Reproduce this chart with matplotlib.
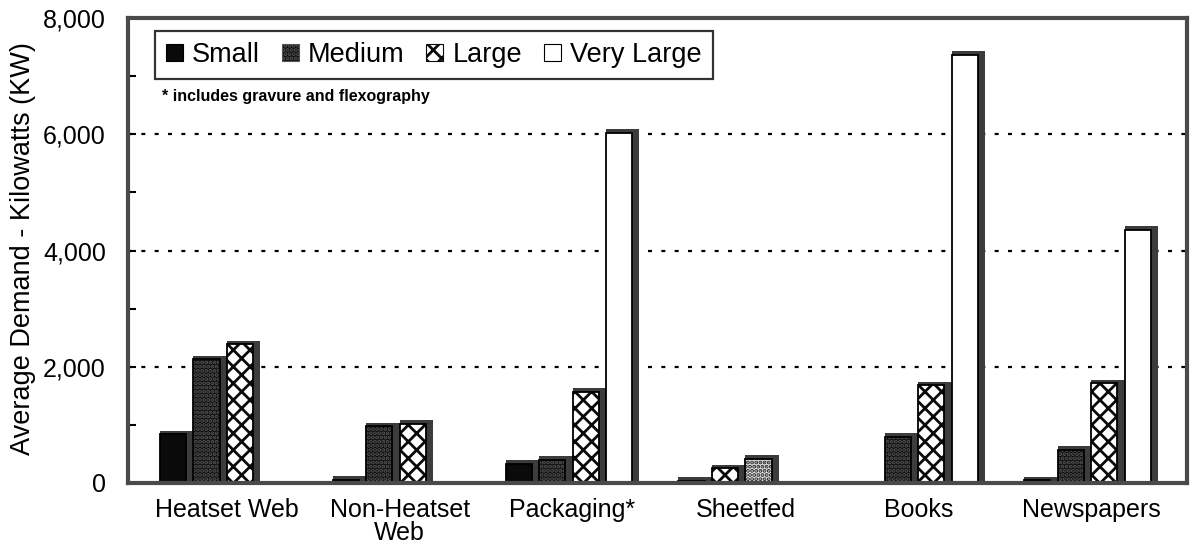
import matplotlib
matplotlib.use("Agg")
import matplotlib.pyplot as plt
from matplotlib.patches import Patch
import numpy as np

plt.rcParams['font.family'] = ['Liberation Sans', 'DejaVu Sans']
plt.rcParams['hatch.linewidth'] = 2.0

categories = ["Heatset Web", "Non-Heatset\nWeb", "Packaging*", "Sheetfed", "Books", "Newspapers"]
series_names = ["Small", "Medium", "Large", "Very Large"]
small = [840, 60, 330, 40, 0, 50]
medium = [2130, 980, 400, 250, 800, 570]
large = [2390, 1020, 1570, 420, 1680, 1720]
very_large = [0, 0, 6030, 0, 7370, 4360]
yticks = [0, 2000, 4000, 6000, 8000]
ytick_labels = ["0", "2,000", "4,000", "6,000", "8,000"]
note = "* includes gravure and flexography"
ylabel = "Average Demand - Kilowatts (KW)"

series = [small, medium, large, very_large]

# styles: (facecolor, hatch, hatchcolor)
styles = {
    "Small": ("#0a0a0a", None, None),
    "Medium": ("#0c0c0c", "....", "#555555"),
    "Large": ("white", "xx", "#0a0a0a"),
    "Very Large": ("white", None, None),
}
# the Sheetfed group is drawn with shifted patterns in the original figure
override = {(3, 1): ("white", "xx", "#0a0a0a"), (3, 2): ("#e6e6e6", "....", "#222222")}

fig = plt.figure(figsize=(11.9, 5.45), dpi=100)
ax = fig.add_axes([128/1190, 1-483/545, (1187-128)/1190, (483-18)/545])

x = np.arange(len(categories))
pitch = 0.1936
shadow_dx = 0.042
shadow_dy = 60
shadow_col = "#3c3c3c"

for j, (name, vals) in enumerate(zip(series_names, series)):
    for i, v in enumerate(vals):
        if v <= 0:
            continue
        fc, hatch, hc = override.get((i, j), styles[name])
        left = x[i] + (j - 2) * pitch
        ax.bar(left, v + shadow_dy, width=pitch, align='edge', color=shadow_col,
               edgecolor='none', zorder=2 + j * 0.1)
        ax.bar(left, v, width=pitch - shadow_dx, align='edge', color=fc,
               edgecolor=hc if hc else 'none', hatch=hatch, linewidth=0,
               zorder=2.02 + j * 0.1)
        ax.bar(left, v, width=pitch - shadow_dx, align='edge', color='none',
               edgecolor='black', linewidth=1.3, zorder=2.04 + j * 0.1)

ax.set_xlim(-0.572, 5.555)
ax.set_ylim(0, 8000)
ax.set_yticks(yticks)
ax.set_yticklabels(ytick_labels)
ax.set_yticks([1000, 3000, 5000, 7000], minor=True)
ax.tick_params(axis='y', which='both', direction='in', length=6, width=1.5,
               labelsize=18, pad=16, colors='black')
ax.set_xticks(x)
ax.set_xticklabels(categories, fontsize=18, linespacing=0.92)
ax.tick_params(axis='x', length=0, pad=11)

for g in [2000, 4000, 6000]:
    ax.axhline(g, color='black', linewidth=1.6, linestyle=(0, (1.8, 4.2)), zorder=1)

for sp in ax.spines.values():
    sp.set_linewidth(3)
    sp.set_color('#4a4a4a')

handles = []
for name in series_names:
    fc, hatch, hc = styles[name]
    handles.append(Patch(facecolor=fc, hatch=hatch, edgecolor=hc if hc else 'black',
                         linewidth=0.8))
leg = fig.legend(handles, series_names, loc='upper left',
                 bbox_to_anchor=(155/1190, 1-31/545), ncol=4, fontsize=19.5,
                 frameon=True, fancybox=False, handlelength=0.62, handleheight=0.62,
                 handletextpad=0.35, columnspacing=0.8, borderpad=0.4,
                 borderaxespad=0)
leg.get_frame().set_edgecolor('black')
leg.get_frame().set_linewidth(1.6)

fig.text(162/1190, 1-97/545, note, fontsize=11.5, fontweight='bold', va='center', ha='left')
fig.text(23/1190, 1-249/545, ylabel, rotation=90, fontsize=19.5, va='center', ha='center')

fig.savefig("out.png", dpi=100)
